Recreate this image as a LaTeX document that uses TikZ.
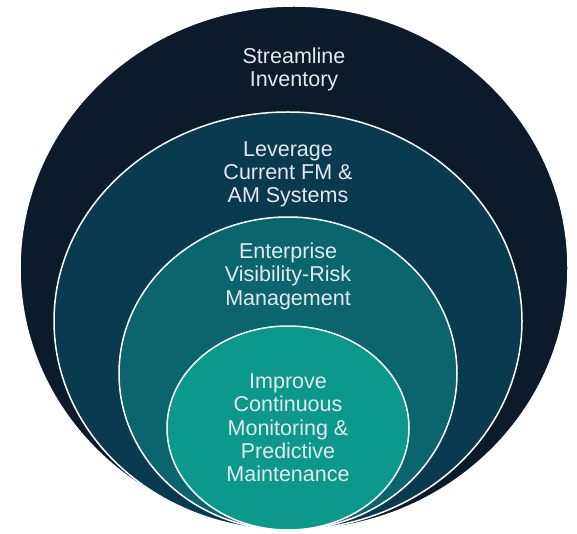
\documentclass[tikz,border=0pt]{standalone}
\usepackage{fontspec}
\setmainfont{Liberation Sans}
\usetikzlibrary{shapes.geometric,positioning}
\definecolor{ringA}{HTML}{0B1B2C}
\definecolor{ringB}{HTML}{0A3A4E}
\definecolor{ringC}{HTML}{0B656C}
\definecolor{ringD}{HTML}{0C998B}
\definecolor{lblgray}{HTML}{E3E9EC}
\tikzset{
    %Define style for the rings
    ring/.style={
           ellipse,
           draw = white, line width = 1.5pt,
           inner sep = 0pt},
    % Define style for the labels
    lbl/.style={
           text = lblgray,
           align = center,
           font = \fontsize{21.5}{23.3}\selectfont}
}
\begin{document}
\begin{tikzpicture}[x=1pt, y=1pt]
\useasboundingbox (0,0) rectangle (577,533);
 %rings
\node[ring, fill=ringA, minimum width=548pt, minimum height=524pt] (outer) at (294,265) {};
\node[ring, fill=ringB, minimum width=468pt, minimum height=418pt] (fmam) at (288,212) {};
\node[ring, fill=ringC, minimum width=338pt, minimum height=313pt] (risk) at (288,159.5) {};
\node[ring, fill=ringD, minimum width=242pt, minimum height=204pt] (monitor) at (288,105) {};
 %labels
\node[lbl] (streamline) at ([yshift=-64.5pt]outer.north) {Streamline\\Inventory};
\node[lbl] (leverage) at ([yshift=-63pt]fmam.north) {Leverage\\Current FM \&\\AM Systems};
\node[lbl] (enterprise) at ([yshift=-60pt]risk.north) {Enterprise\\Visibility-Risk\\Management};
\node[lbl] (improve) at (monitor) {Improve\\Continuous\\Monitoring \&\\Predictive\\Maintenance};
\end{tikzpicture}
\end{document}
